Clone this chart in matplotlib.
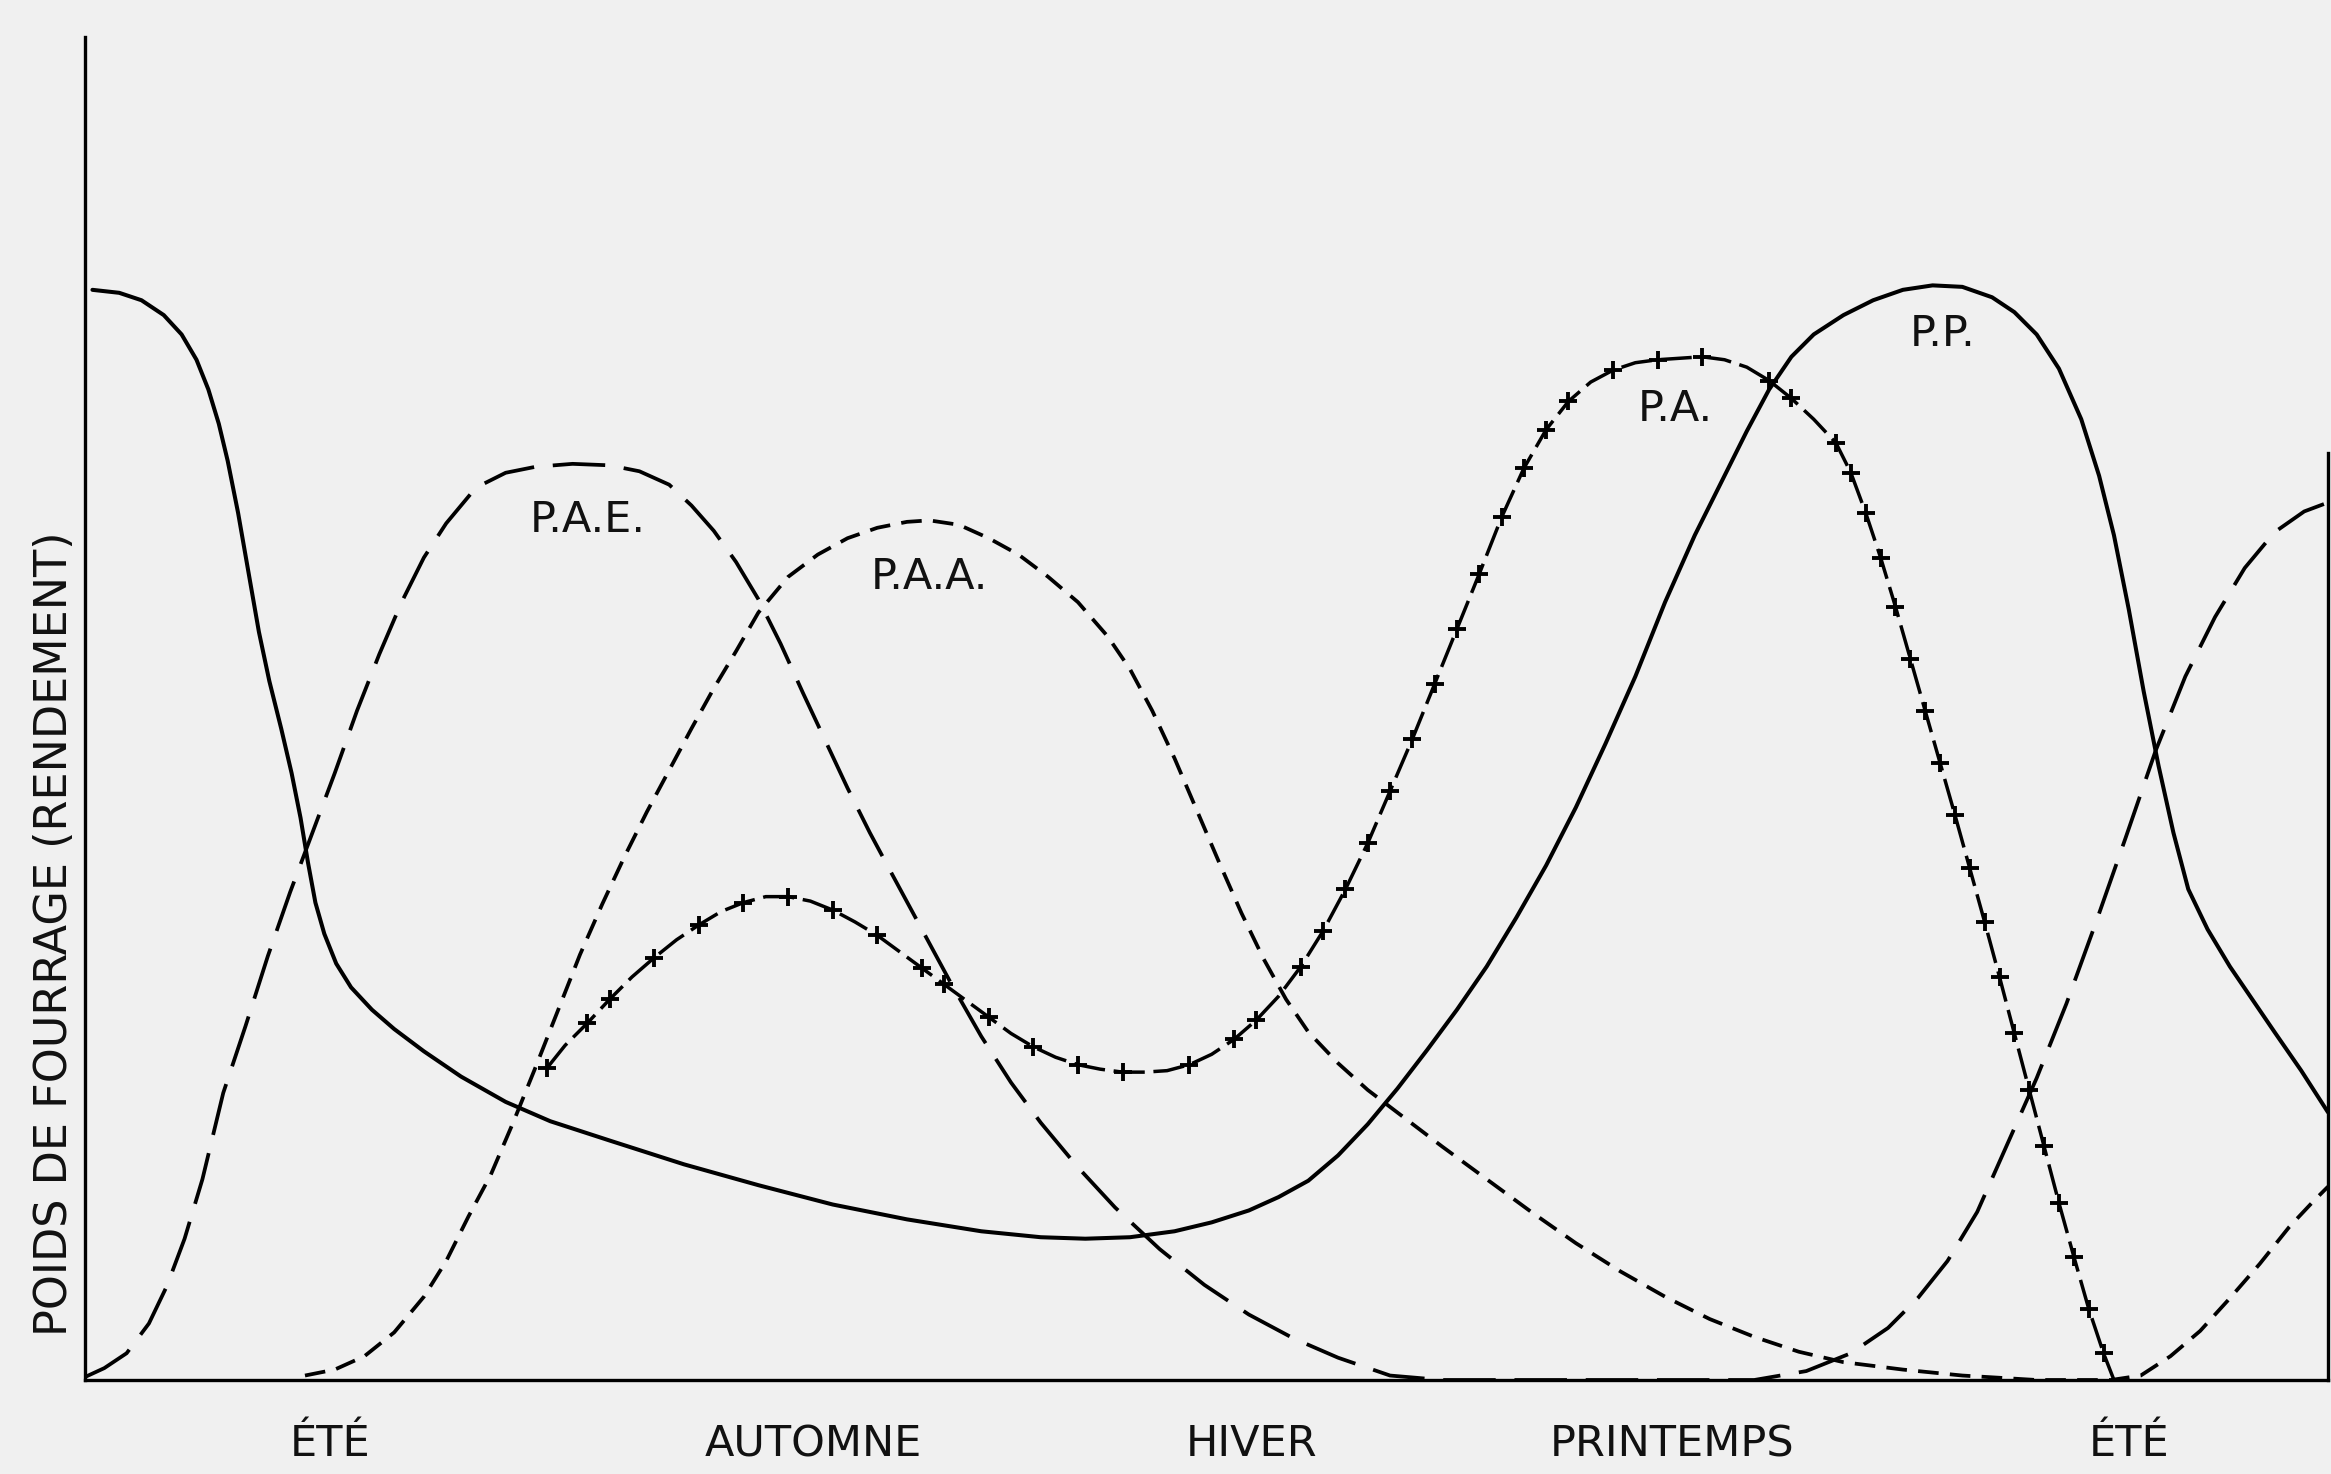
import matplotlib
matplotlib.use("Agg")
import matplotlib.pyplot as plt

# x: time along the year (arbitrary units), y: forage yield (arbitrary units)
seasons = ["ÉTÉ", "AUTOMNE", "HIVER", "PRINTEMPS", "ÉTÉ"]
season_x = [165, 490, 785, 1068, 1375]

# P.P. (solid)
pp_x = [5, 23, 38, 53, 65, 75, 83, 90, 96, 103,
        110, 117, 124, 132, 139, 145, 150, 155, 161, 169,
        179, 193, 208, 228, 253, 283, 313, 353, 403, 453,
        503, 553, 603, 643, 673, 703, 733, 758, 783, 803,
        823, 843, 863, 883, 903, 923, 943, 963, 983, 1003,
        1023, 1043, 1063, 1083, 1103, 1118, 1133, 1148, 1163, 1183,
        1203, 1223, 1243, 1263, 1283, 1298, 1313, 1328, 1343, 1355,
        1365, 1375, 1385, 1395, 1405, 1415, 1428, 1443, 1458, 1473,
        1491, 1509]
pp_y = [733, 731, 726, 716, 703, 686, 666, 643, 618, 583,
        543, 503, 470, 438, 408, 378, 348, 321, 300, 280,
        264, 249, 236, 221, 204, 187, 174, 161, 145, 131,
        118, 108, 100, 96, 95, 96, 100, 106, 114, 123,
        134, 151, 172, 196, 222, 249, 278, 311, 346, 385,
        428, 473, 523, 568, 608, 638, 666, 688, 703, 716,
        726, 733, 736, 735, 728, 718, 703, 680, 646, 608,
        568, 518, 463, 413, 368, 330, 303, 278, 256, 234,
        208, 180]

# P.A.E. (long dashes)
pae_x = [0, 13, 28, 43, 55, 67, 79, 93, 108, 123,
         138, 153, 168, 183, 198, 213, 228, 243, 263, 283,
         303, 328, 353, 373, 393, 408, 423, 438, 453, 468,
         483, 498, 513, 528, 543, 563, 583, 603, 623, 643,
         668, 693, 723, 753, 783, 813, 843, 878, 913, 993,
         1073, 1123, 1158, 1188, 1213, 1233, 1253, 1273, 1293, 1313,
         1333, 1353, 1373, 1393, 1413, 1433, 1453, 1473, 1493, 1509]
pae_y = [2, 8, 18, 38, 63, 95, 135, 193, 238, 285,
         328, 368, 408, 450, 488, 523, 553, 576, 600, 610,
         614, 616, 615, 611, 602, 588, 571, 550, 525, 495,
         462, 430, 398, 368, 340, 303, 266, 231, 200, 173,
         143, 116, 88, 64, 44, 28, 15, 3, 0, 0,
         0, 0, 6, 18, 35, 55, 80, 113, 158, 203,
         253, 308, 365, 423, 473, 513, 546, 570, 584, 590]

# P.A.A. (short dashes)
paa_x = [148, 168, 188, 208, 228, 243, 258, 273, 288, 303,
         318, 333, 348, 363, 378, 393, 408, 423, 438, 453,
         473, 493, 513, 533, 553, 568, 588, 608, 628, 648,
         668, 688, 703, 718, 733, 748, 763, 778, 793, 808,
         823, 843, 863, 888, 913, 943, 973, 1003, 1033, 1063,
         1093, 1123, 1153, 1183, 1223, 1263, 1313, 1363, 1383, 1403,
         1423, 1443, 1463, 1483, 1499, 1509]
paa_y = [3, 7, 16, 32, 56, 80, 110, 138, 173, 210,
         248, 286, 320, 352, 382, 410, 438, 465, 490, 516,
         540, 555, 566, 573, 577, 578, 575, 566, 555, 540,
         523, 500, 478, 450, 418, 383, 348, 314, 283, 256,
         234, 213, 195, 176, 157, 135, 113, 92, 73, 56,
         41, 29, 19, 12, 7, 3, 0, 0, 3, 16,
         33, 55, 78, 103, 120, 130]

# P.A. (solid with crosses)
pa_x = [311, 323, 338, 353, 368, 383, 398, 413, 428, 443,
        458, 473, 488, 503, 518, 533, 548, 563, 578, 593,
        608, 623, 638, 653, 668, 683, 698, 713, 728, 743,
        758, 773, 788, 803, 818, 833, 848, 863, 878, 893,
        908, 923, 938, 953, 968, 983, 998, 1013, 1028, 1043,
        1058, 1073, 1088, 1103, 1118, 1133, 1148, 1163, 1178, 1188,
        1198, 1208, 1218, 1228, 1238, 1248, 1258, 1268, 1278, 1288,
        1298, 1308, 1318, 1328, 1338, 1348, 1358, 1365]
pa_y = [210, 225, 240, 256, 271, 284, 296, 306, 315, 321,
        325, 325, 322, 316, 308, 299, 288, 277, 266, 255,
        244, 233, 224, 217, 212, 209, 207, 207, 208, 212,
        219, 229, 242, 258, 278, 302, 330, 361, 396, 431,
        468, 505, 542, 580, 613, 639, 658, 671, 679, 684,
        686, 687, 688, 686, 681, 672, 660, 646, 630, 610,
        583, 553, 520, 485, 450, 415, 380, 344, 308, 271,
        233, 195, 157, 119, 83, 48, 18, 0]

labels = ["P.A.E.", "P.A.A.", "P.A.", "P.P."]
label_x = [338, 568, 1070, 1250]
label_y = [578, 540, 653, 703]

BG = "#f0f0f0"
fig = plt.figure(figsize=(23.31, 14.74), dpi=100, facecolor=BG)
ax = fig.add_axes([85 / 2331, 94 / 1474, 2243 / 2331, 1343 / 1474])
ax.set_facecolor(BG)

common = dict(color="black", solid_joinstyle="round", dash_joinstyle="round")
ax.plot(pp_x, pp_y, lw=2.9, solid_capstyle="round", **common)
ax.plot(pae_x, pae_y, lw=2.7, dashes=(14, 5), **common)
ax.plot(paa_x, paa_y, lw=2.7, dashes=(5.5, 3), **common)
ax.plot(pa_x, pa_y, lw=2.5, dashes=(9, 2.5), marker="+", markersize=13,
        markeredgewidth=2.8, markevery=0.019, **common)

for t, x, y in zip(labels, label_x, label_y):
    ax.text(x, y, t, fontsize=31, ha="center", va="center", color="#111111")

for t, x in zip(seasons, season_x):
    ax.text(x, -0.048, t, transform=ax.get_xaxis_transform(), fontsize=31,
            ha="center", va="center", color="#111111")

ax.set_xlim(0, 1509)
ax.set_ylim(0, 903)
ax.set_xticks([])
ax.set_yticks([])
ax.spines["top"].set_visible(False)
ax.spines["right"].set_bounds(0, 623)
for s in ["left", "bottom", "right"]:
    ax.spines[s].set_linewidth(2.4)
    ax.spines[s].set_color("black")

ax.set_ylabel("POIDS DE FOURRAGE (RENDEMENT)", fontsize=32, color="#111111")
ax.yaxis.set_label_coords(-0.004, 0.332)

fig.savefig("out.png", dpi=100, facecolor=BG)
